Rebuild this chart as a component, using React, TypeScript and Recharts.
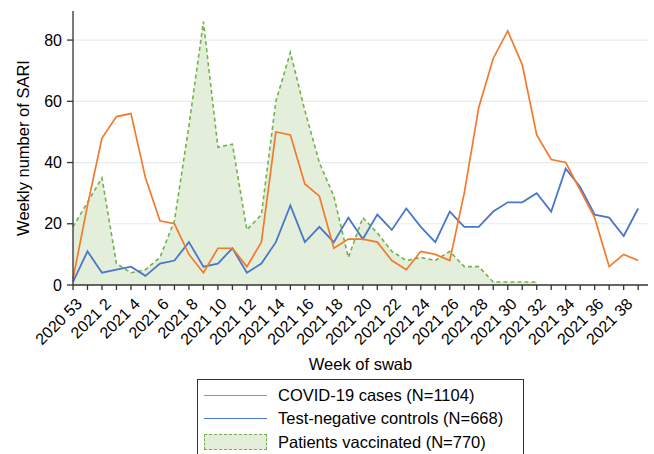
import { ComposedChart, Line, Area, XAxis, YAxis, CartesianGrid } from 'recharts';

const weeks = [
  '2020 53', '2021 1', '2021 2', '2021 3', '2021 4', '2021 5', '2021 6', '2021 7', '2021 8', '2021 9',
  '2021 10', '2021 11', '2021 12', '2021 13', '2021 14', '2021 15', '2021 16', '2021 17', '2021 18', '2021 19',
  '2021 20', '2021 21', '2021 22', '2021 23', '2021 24', '2021 25', '2021 26', '2021 27', '2021 28', '2021 29',
  '2021 30', '2021 31', '2021 32', '2021 33', '2021 34', '2021 35', '2021 36', '2021 37', '2021 38', '2021 39',
];

const covidCases = [
  2, 26, 48, 55, 56, 35, 21, 20, 10, 4,
  12, 12, 6, 14, 50, 49, 33, 29, 12, 15,
  15, 14, 8, 5, 11, 10, 8, 30, 58, 74,
  83, 72, 49, 41, 40, 31, 22, 6, 10, 8,
];

const testNegative = [
  1, 11, 4, 5, 6, 3, 7, 8, 14, 6,
  7, 12, 4, 7, 14, 26, 14, 19, 14, 22,
  15, 23, 18, 25, 19, 14, 24, 19, 19, 24,
  27, 27, 30, 24, 38, 32, 23, 22, 16, 25,
];

// vaccinated patients only recorded up to week 32
const vaccinated = [
  19, 27, 35, 7, 4, 5, 9, 21, 52, 86,
  45, 46, 18, 23, 60, 76, 57, 40, 29, 9,
  22, 17, 11, 8, 9, 8, 11, 6, 6, 1,
  1, 1, 1,
];

const yTicks = [0, 20, 40, 60, 80];

const ORANGE = '#f37a2c';
const BLUE = '#4a77c9';
const GREEN = '#74b14c';
const GREEN_FILL = '#e3efdb';
const FONT = '"Liberation Sans", Arial, sans-serif';

const data = weeks.map((w, i) => ({
  i,
  week: w,
  covid: covidCases[i],
  controls: testNegative[i],
  vacc: i < vaccinated.length ? vaccinated[i] : null,
}));

const xTicks = weeks.map((_, i) => i);

const WeekTick = ({ x, y, payload }: any) => {
  const i = payload.value;
  if (i % 2 !== 0) return null;
  return (
    <g transform={`translate(${x + 6},${y + 9})`}>
      <text
        x={0}
        y={0}
        dy="0.35em"
        textAnchor="end"
        transform="rotate(-45)"
        fill="#000"
        fontSize={16}
        fontFamily={FONT}
      >
        {weeks[i]}
      </text>
    </g>
  );
};

const legendItems = [
  { label: 'COVID-19 cases (N=1104)', kind: 'line', color: ORANGE },
  { label: 'Test-negative controls (N=668)', kind: 'line', color: BLUE },
  { label: 'Patients vaccinated (N=770)', kind: 'area', color: GREEN },
];

export default function App() {
  return (
    <div style={{ position: 'absolute', left: 0, top: 0, width: 654, height: 454, background: '#fff', overflow: 'hidden', fontFamily: FONT }}>
      <ComposedChart width={654} height={454} data={data} margin={{ top: 11, right: 6, bottom: 89, left: 0 }}>
        <CartesianGrid horizontal vertical={false} stroke="#e5eeee" strokeWidth={1.2} horizontalValues={[20, 40, 60, 80]} />
        <XAxis
          type="number"
          dataKey="i"
          domain={[0, 39.68]}
          ticks={xTicks}
          interval={0}
          height={80}
          tick={<WeekTick />}
          tickSize={5}
          stroke="#333"
          axisLine={{ stroke: '#333', strokeWidth: 1.3 }}
          tickLine={{ stroke: '#333', strokeWidth: 1.3 }}
          label={{ value: 'Week of swab', position: 'insideBottom', offset: -5, fill: '#000', fontSize: 16.5, fontFamily: FONT }}
        />
        <YAxis
          type="number"
          domain={[0, 89.5]}
          ticks={yTicks}
          width={73}
          tickSize={6}
          tickMargin={5}
          axisLine={{ stroke: '#333', strokeWidth: 1.3 }}
          tickLine={{ stroke: '#333', strokeWidth: 1.3 }}
          tick={{ fill: '#000', fontSize: 16, fontFamily: FONT }}
          label={{
            content: ({ viewBox }: any) => {
              const cy = viewBox.y + viewBox.height / 2;
              return (
                <text
                  x={23}
                  y={cy}
                  transform={`rotate(-90, 23, ${cy})`}
                  textAnchor="middle"
                  dominantBaseline="central"
                  fontSize={16.5}
                  fontFamily={FONT}
                  fill="#000"
                >
                  Weekly number of SARI
                </text>
              );
            },
          }}
        />
        <Area
          type="linear"
          dataKey="vacc"
          stroke={GREEN}
          strokeWidth={1.6}
          strokeDasharray="4 3"
          fill={GREEN_FILL}
          fillOpacity={1}
          dot={false}
          activeDot={false}
          isAnimationActive={false}
        />
        <Line type="linear" dataKey="controls" stroke={BLUE} strokeWidth={1.8} dot={false} activeDot={false} isAnimationActive={false} />
        <Line type="linear" dataKey="covid" stroke={ORANGE} strokeWidth={1.7} dot={false} activeDot={false} isAnimationActive={false} />
      </ComposedChart>

      <div
        style={{
          position: 'absolute',
          left: 197,
          top: 379,
          width: 327,
          height: 90,
          border: '1px solid #333',
          boxSizing: 'border-box',
        }}
      >
        {legendItems.map((item, k) => (
          <div
            key={item.label}
            style={{ position: 'absolute', left: 6, top: 5 + k * 23.7, height: 20, display: 'flex', alignItems: 'center' }}
          >
            {item.kind === 'line' ? (
              <div style={{ width: 63, height: 0, borderTop: `1.6px solid ${item.color}` }} />
            ) : (
              <div style={{ width: 63, height: 16, boxSizing: 'border-box', background: GREEN_FILL, border: `1.5px dashed ${item.color}` }} />
            )}
            <span style={{ marginLeft: 11, fontSize: 16.5, color: '#000', whiteSpace: 'nowrap' }}>{item.label}</span>
          </div>
        ))}
      </div>
    </div>
  );
}
